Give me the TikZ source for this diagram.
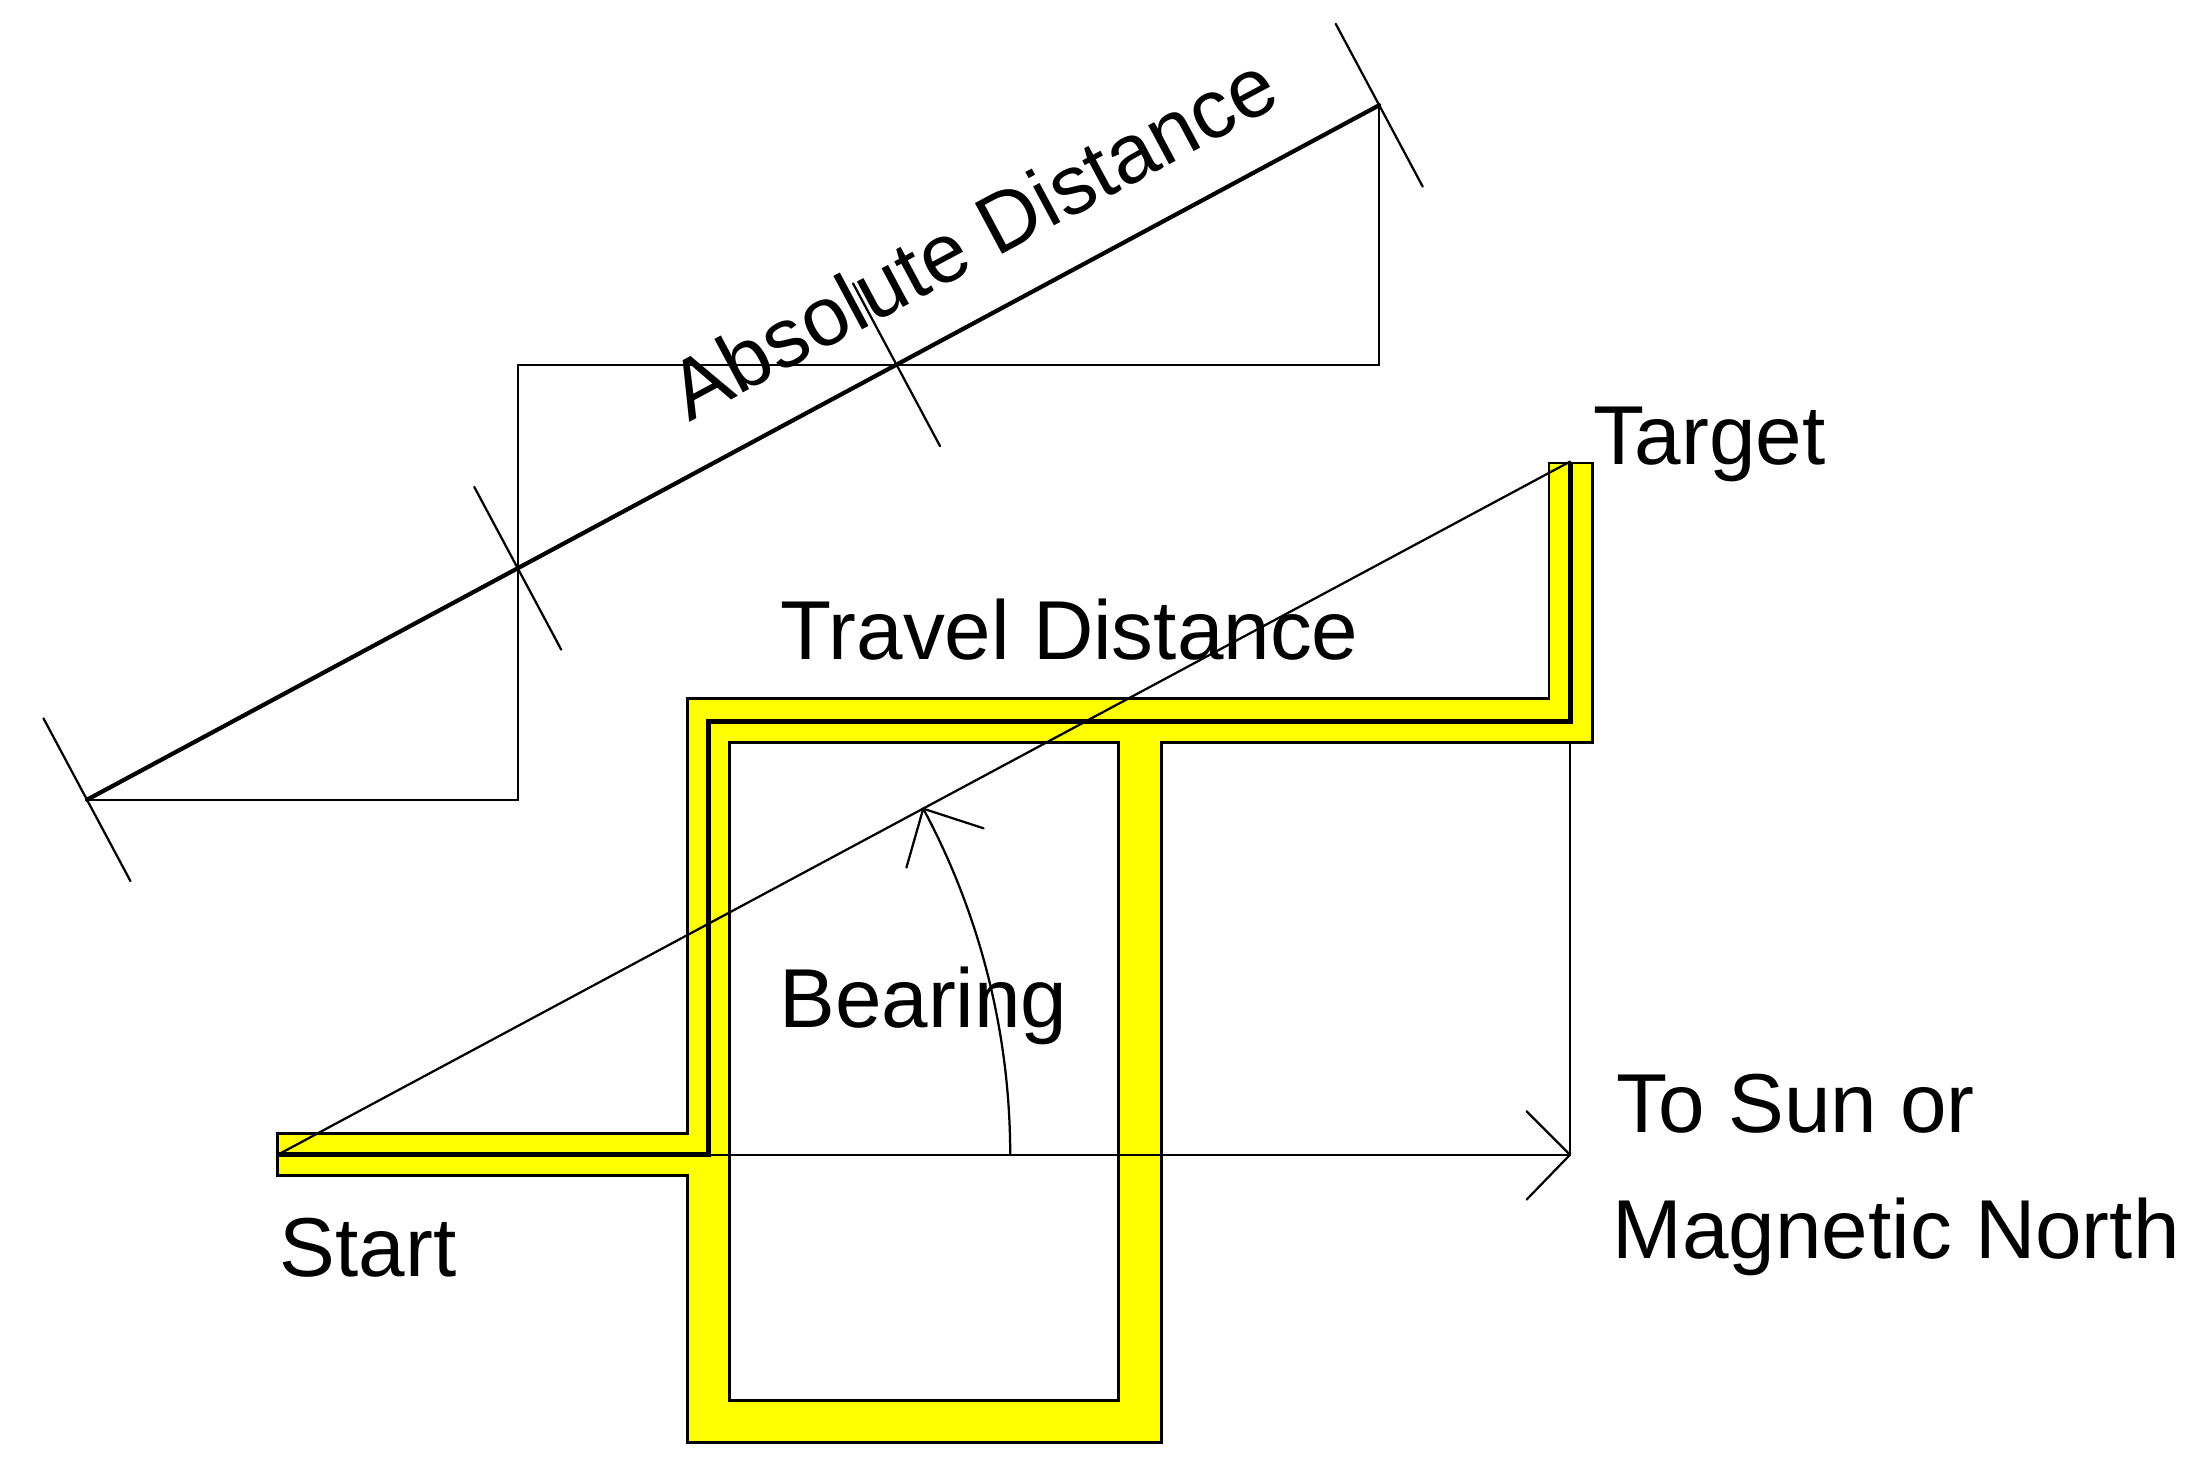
\documentclass[tikz,border=0pt]{standalone}
\usepackage{fontspec}
\setmainfont{Liberation Sans}
\begin{document}
\begin{tikzpicture}[x=0.5pt,y=-0.5pt,
  thin line/.style={line width=0.8pt,line cap=round},
  thick line/.style={line width=1.5pt,line cap=round},
  path line/.style={line width=1.8pt},
  band/.style={fill={rgb,255:red,255;green,255;blue,0},draw=black,line width=1pt},
  label/.style={font=\fontsize{29.8pt}{34pt}\selectfont,inner sep=0pt,anchor=base west}]
\useasboundingbox (0,0) rectangle (1568,1056.3);
% ---------- absolute distance construction ----------
\coordinate (A) at (62,570);
\coordinate (A1) at (369,570);
\coordinate (A2) at (369,405);
\coordinate (A3) at (369,260);
\coordinate (A4) at (639,260);
\coordinate (A5) at (983,260);
\coordinate (B) at (983,75);
\draw[thin line] (A) -- (A1) -- (A3) -- (A5) -- (B);
\draw[thick line] (A) -- (B);
\foreach \p in {A,A2,A4,B}
  \draw[thin line] ([shift={(-31,-58)}]\p) -- ([shift={(31,58)}]\p);
\node[label,rotate=28.2] (abs) at (491,301) {Absolute Distance};
% ---------- travel construction ----------
\coordinate (S) at (198,823);
\coordinate (T) at (1119,329);
\coordinate (N) at (1119,823);
\coordinate (C) at (1119,529);
\draw[thin line] (C) -- (N);
\filldraw[band,even odd rule]
  (198,808) -- (490,808) -- (490,498) -- (1104,498) -- (1104,330) -- (1135,330)
  -- (1135,529) -- (828,529) -- (828,1028) -- (490,1028) -- (490,838) -- (198,838) -- cycle
  (520,529) rectangle (797,998);
\draw[path line] (S) -- (505,823) -- (505,514) -- (1119,514) -- (T);
\draw[thin line] (S) -- (T);
\draw[thin line] (S) -- (N);
\draw[thin line] (N) -- ++(-31,-31);
\draw[thin line] (N) -- ++(-31,32);
% bearing arc
\coordinate (R0) at (720,823);
\draw[thin line] (R0) arc[start angle=0,end angle=-28.2,radius=522] coordinate (R1);
\draw[thin line] (R1) -- ++(-12,42);
\draw[thin line] (R1) -- ++(43,14);
% ---------- labels ----------
\node[label] (travel) at (556,470) {Travel Distance};
\node[label] (target) at (1135,331) {Target};
\node[label] (start) at (199,910) {Start};
\node[label] (bearing) at (555,732) {Bearing};
\node[label] (sun) at (1152,807) {To Sun or};
\node[label] (north) at (1149,897) {Magnetic North};
\end{tikzpicture}
\end{document}
